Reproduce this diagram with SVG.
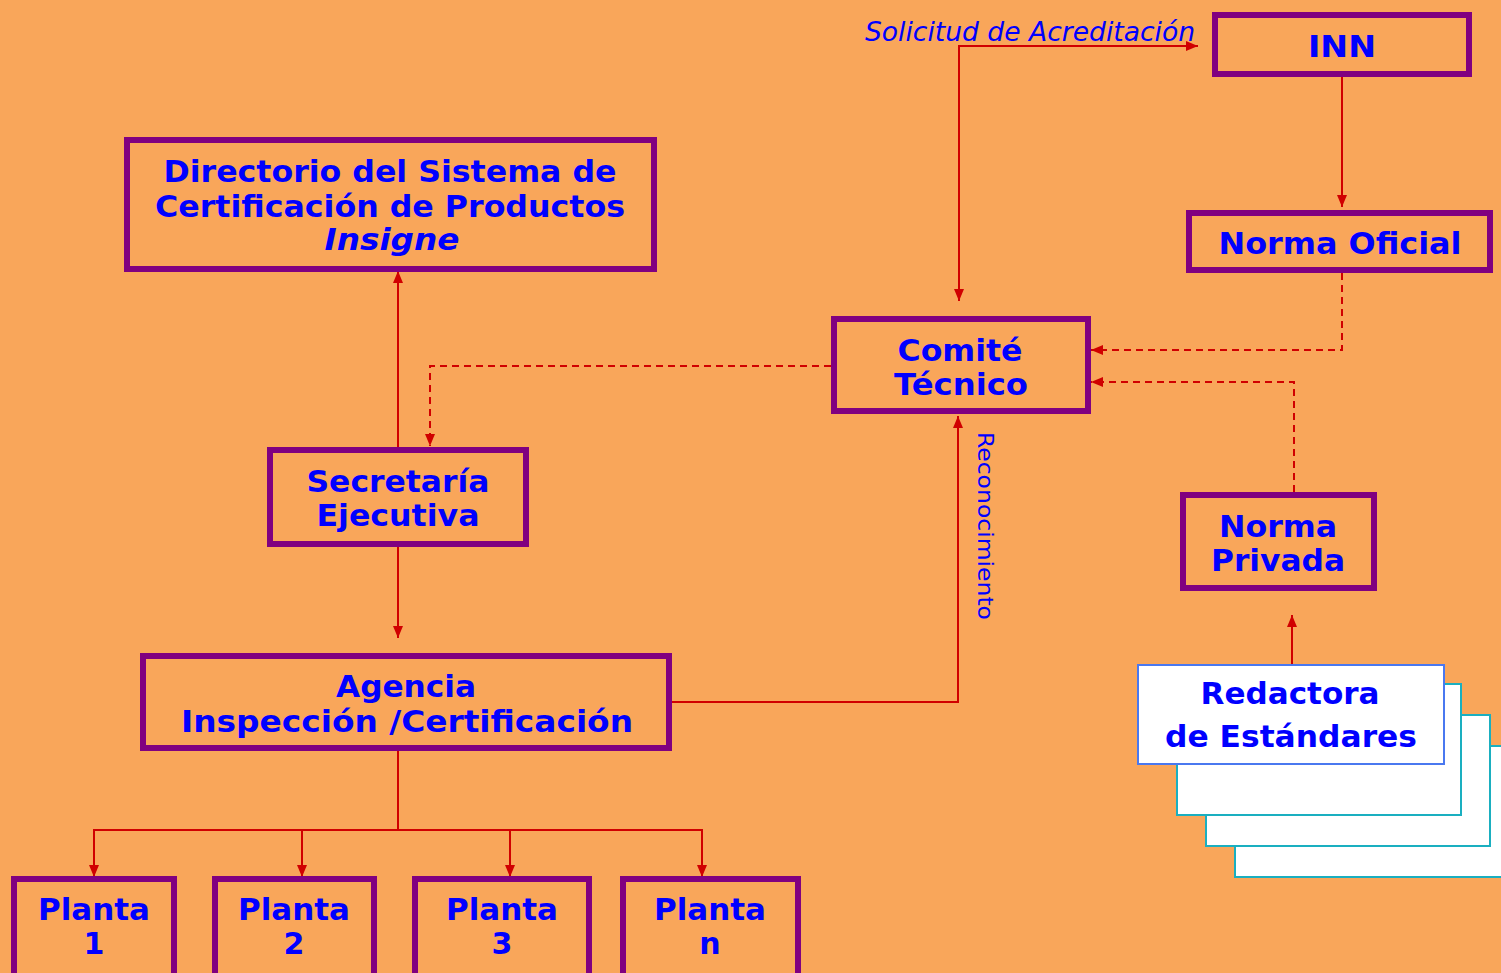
<svg xmlns="http://www.w3.org/2000/svg" width="1501" height="973" viewBox="0 0 1501 973">
<style>
.box{fill:none;stroke:#800080;stroke-width:6}
.t{font-family:"DejaVu Sans","Verdana",sans-serif;font-weight:bold;font-size:30px;fill:#0000FF;text-anchor:middle}
.lbl{font-family:"DejaVu Sans","Verdana",sans-serif;fill:#0000FF}
.c{fill:none;stroke:#D00000;stroke-width:2}
.d{fill:none;stroke:#D00000;stroke-width:2;stroke-dasharray:7 5}
.paper{fill:#FFFFFF;stroke:#1AAFC0;stroke-width:2}
</style>
<defs>
<marker id="ah" markerUnits="userSpaceOnUse" markerWidth="12" markerHeight="10" refX="12" refY="5" orient="auto-start-reverse" viewBox="0 0 12 10">
<path d="M0,0 L12,5 L0,10 z" fill="#D00000"/>
</marker>
</defs>
<rect x="0" y="0" width="1501" height="973" fill="#F9A65A"/>

<g id="connectors">
<path class="c" d="M1198,46 H959 V301" marker-start="url(#ah)" marker-end="url(#ah)"/>
<path class="c" d="M1342,77 V207" marker-end="url(#ah)"/>
<path class="d" d="M1342,273 V350 H1091" marker-end="url(#ah)"/>
<path class="d" d="M1294,492 V382 H1091" marker-end="url(#ah)"/>
<path class="d" d="M831,366 H430 V446" marker-end="url(#ah)"/>
<path class="c" d="M398,447 V271" marker-end="url(#ah)"/>
<path class="c" d="M398,547 V638" marker-end="url(#ah)"/>
<path class="c" d="M672,702 H958 V416" marker-end="url(#ah)"/>
<path class="c" d="M1292,664 V615" marker-end="url(#ah)"/>
<path class="c" d="M398,751 V830"/>
<path class="c" d="M398,830 H94 V877" marker-end="url(#ah)"/>
<path class="c" d="M302,830 V877" marker-end="url(#ah)"/>
<path class="c" d="M510,830 V877" marker-end="url(#ah)"/>
<path class="c" d="M398,830 H702 V877" marker-end="url(#ah)"/>
<text class="lbl" x="865" y="41" font-size="26" font-style="italic" textLength="330" lengthAdjust="spacingAndGlyphs">Solicitud de Acreditación</text>
<text class="lbl" transform="translate(978,432) rotate(90)" font-size="21" textLength="188" lengthAdjust="spacingAndGlyphs">Reconocimiento</text>
</g>

<g id="inn">
<rect class="box" x="1215" y="15" width="254" height="59"/>
<text class="t" x="1342" y="57" font-size="32" textLength="68" lengthAdjust="spacingAndGlyphs">INN</text>
</g>

<g id="norma-oficial">
<rect class="box" x="1189" y="213" width="301" height="57"/>
<text class="t" x="1340" y="254" font-size="32" textLength="243" lengthAdjust="spacingAndGlyphs">Norma Oficial</text>
</g>

<g id="directorio">
<rect class="box" x="127" y="140" width="527" height="129"/>
<text class="t" x="390" y="182" textLength="453" lengthAdjust="spacingAndGlyphs">Directorio del Sistema de</text>
<text class="t" x="390" y="217" textLength="470" lengthAdjust="spacingAndGlyphs">Certificación de Productos</text>
<text class="t" x="392" y="250" font-style="italic" textLength="135" lengthAdjust="spacingAndGlyphs">Insigne</text>
</g>

<g id="comite">
<rect class="box" x="834" y="319" width="254" height="92"/>
<text class="t" x="960" y="361" textLength="125" lengthAdjust="spacingAndGlyphs">Comité</text>
<text class="t" x="961" y="395" textLength="134" lengthAdjust="spacingAndGlyphs">Técnico</text>
</g>

<g id="secretaria">
<rect class="box" x="270" y="450" width="256" height="94"/>
<text class="t" x="398" y="492" textLength="183" lengthAdjust="spacingAndGlyphs">Secretaría</text>
<text class="t" x="398" y="526" textLength="163" lengthAdjust="spacingAndGlyphs">Ejecutiva</text>
</g>

<g id="norma-privada">
<rect class="box" x="1183" y="495" width="191" height="93"/>
<text class="t" x="1278" y="537" textLength="118" lengthAdjust="spacingAndGlyphs">Norma</text>
<text class="t" x="1278" y="571" textLength="134" lengthAdjust="spacingAndGlyphs">Privada</text>
</g>

<g id="agencia">
<rect class="box" x="143" y="656" width="526" height="92"/>
<text class="t" x="406" y="697" textLength="140" lengthAdjust="spacingAndGlyphs">Agencia</text>
<text class="t" x="407" y="732" textLength="452" lengthAdjust="spacingAndGlyphs">Inspección /Certificación</text>
</g>

<g id="planta-1">
<rect class="box" x="14" y="879" width="160" height="110"/>
<text class="t" x="94" y="920" textLength="112" lengthAdjust="spacingAndGlyphs">Planta</text>
<text class="t" x="94" y="954">1</text>
</g>
<g id="planta-2">
<rect class="box" x="215" y="879" width="159" height="110"/>
<text class="t" x="294" y="920" textLength="112" lengthAdjust="spacingAndGlyphs">Planta</text>
<text class="t" x="294" y="954">2</text>
</g>
<g id="planta-3">
<rect class="box" x="415" y="879" width="174" height="110"/>
<text class="t" x="502" y="920" textLength="112" lengthAdjust="spacingAndGlyphs">Planta</text>
<text class="t" x="502" y="954">3</text>
</g>
<g id="planta-n">
<rect class="box" x="623" y="879" width="175" height="110"/>
<text class="t" x="710" y="920" textLength="112" lengthAdjust="spacingAndGlyphs">Planta</text>
<text class="t" x="710" y="954">n</text>
</g>

<g id="redactora">
<rect class="paper" x="1235" y="746" width="280" height="131"/>
<rect class="paper" x="1206" y="715" width="284" height="131"/>
<rect class="paper" x="1177" y="684" width="284" height="131"/>
<rect x="1138" y="665" width="306" height="99" fill="#FFFFFF" stroke="#4A78F0" stroke-width="2"/>
<text class="t" x="1290" y="704" font-size="30" textLength="179" lengthAdjust="spacingAndGlyphs">Redactora</text>
<text class="t" x="1291" y="747" font-size="30" textLength="252" lengthAdjust="spacingAndGlyphs">de Estándares</text>
</g>
</svg>
